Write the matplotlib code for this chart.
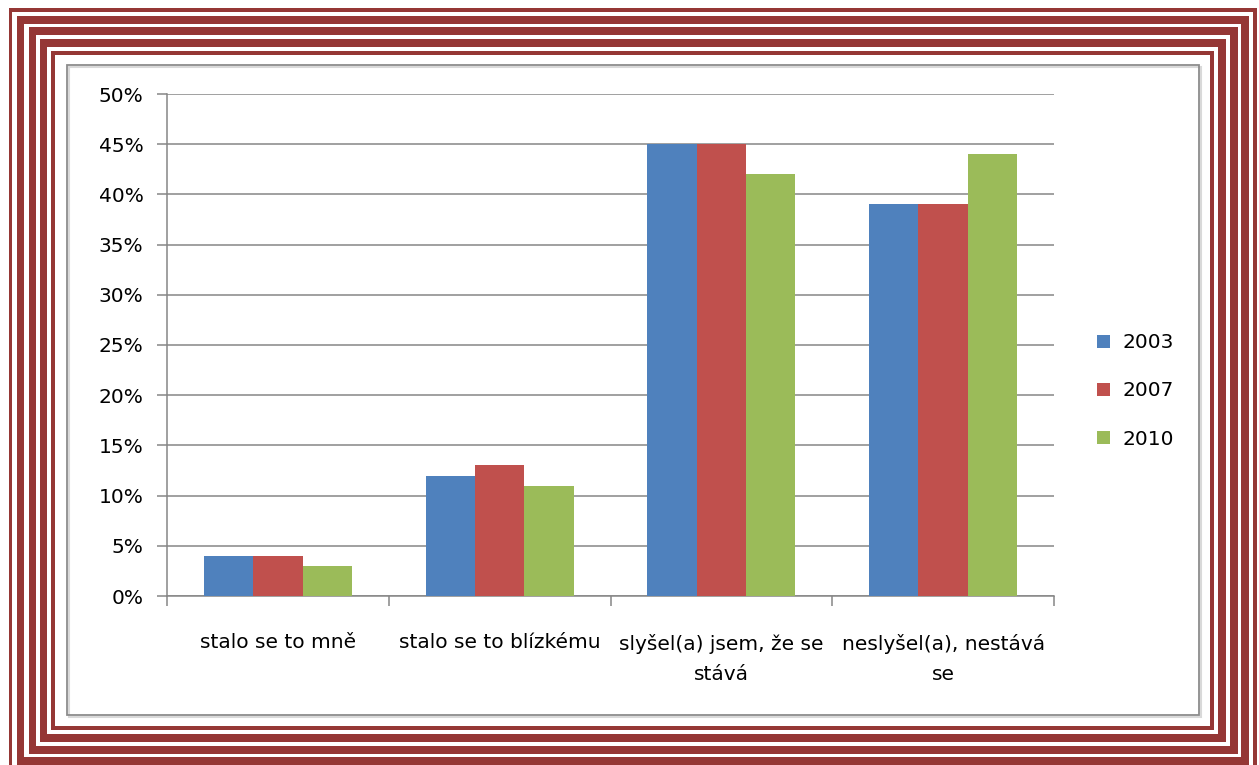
import matplotlib
matplotlib.use("Agg")
import matplotlib.pyplot as plt
from matplotlib.patches import Rectangle
from matplotlib.ticker import FuncFormatter, MultipleLocator, FixedLocator
import numpy as np

# Data
categories = ["stalo se to mně", "stalo se to blízkému",
              "slyšel(a) jsem, že se\nstává", "neslyšel(a), nestává\nse"]
years = ["2003", "2007", "2010"]
values_2003 = [4, 12, 45, 39]
values_2007 = [4, 13, 45, 39]
values_2010 = [3, 11, 42, 44]
series = [values_2003, values_2007, values_2010]
colors = ["#4F81BD", "#C0504D", "#9BBB59"]

plt.rcParams["font.family"] = ["DejaVu Sans"]
FS = 14.5

W, H = 1259, 765
fig = plt.figure(figsize=(W / 100, H / 100), dpi=100)

# Decorative striped frame drawn in pixel space
bg = fig.add_axes([0, 0, 1, 1], zorder=-5)
bg.set_xlim(0, W)
bg.set_ylim(H, 0)
bg.axis("off")
frame_red = "#953735"
# (left, top, right, bottom, thickness_l, thickness_t, thickness_r, thickness_b)
frames = [
    (9, 8, 1257, 772, 3.5, 4, 4, 4),
    (17, 16, 1249, 765, 7.5, 8, 8, 8),
    (29, 27, 1238, 754, 7.5, 8, 8, 8),
    (40, 39, 1226, 742, 7.5, 8, 8, 8),
    (51, 51, 1214, 730, 4, 4, 4, 4),
]
for l, t, r, b, tl, tt, tr, tb in frames:
    bg.add_patch(Rectangle((l, t), r - l, tt, color=frame_red, lw=0))
    bg.add_patch(Rectangle((l, b - tb), r - l, tb, color=frame_red, lw=0))
    bg.add_patch(Rectangle((l, t), tl, b - t, color=frame_red, lw=0))
    bg.add_patch(Rectangle((r - tr, t), tr, b - t, color=frame_red, lw=0))

# Chart area border with a soft shadow
bg.add_patch(Rectangle((69, 67), 1132, 650, fill=False, ec="#d9d9d9", lw=1.5))
bg.add_patch(Rectangle((67, 65), 1132, 650, fill=False, ec="#8c8c8c", lw=1.3))

# Plot area
left, right, top, bottom = 167, 1054, 94, 596
ax = fig.add_axes([left / W, 1 - bottom / H, (right - left) / W, (bottom - top) / H])

n = len(categories)
x = np.arange(n)
bar_w = 1 / 4.5
for i, (vals, col, yr) in enumerate(zip(series, colors, years)):
    ax.bar(x + (i - 1) * bar_w, vals, width=bar_w, color=col, label=yr,
           zorder=3, edgecolor="none")

ax.set_xlim(-0.5, n - 0.5)
ax.set_ylim(0, 50)
ax.yaxis.set_major_locator(MultipleLocator(5))
ax.yaxis.set_major_formatter(FuncFormatter(lambda v, p: f"{v:.0f}%"))
ax.grid(axis="y", color="#868686", lw=1.1, zorder=0)
ax.set_axisbelow(True)

for s in ["top", "right"]:
    ax.spines[s].set_visible(False)
for s in ["left", "bottom"]:
    ax.spines[s].set_color("#868686")
    ax.spines[s].set_linewidth(1.1)

ax.tick_params(axis="y", direction="out", length=7, width=1.1, color="#868686",
               labelsize=FS, pad=10)
ax.xaxis.set_major_locator(FixedLocator(np.arange(n + 1) - 0.5))
ax.xaxis.set_minor_locator(FixedLocator(x))
ax.tick_params(axis="x", which="major", direction="out", length=7, width=1.1,
               color="#868686", labelbottom=False)
ax.tick_params(axis="x", which="minor", length=0, labelsize=FS, pad=27)
ax.set_xticklabels(categories, minor=True, linespacing=1.75)

leg = fig.legend(loc="center left", bbox_to_anchor=(1079 / W, 1 - 391 / H),
                 frameon=False, fontsize=FS, handlelength=0.65, handleheight=0.65,
                 handletextpad=0.6, labelspacing=1.45)

fig.savefig("out.png", dpi=100)
